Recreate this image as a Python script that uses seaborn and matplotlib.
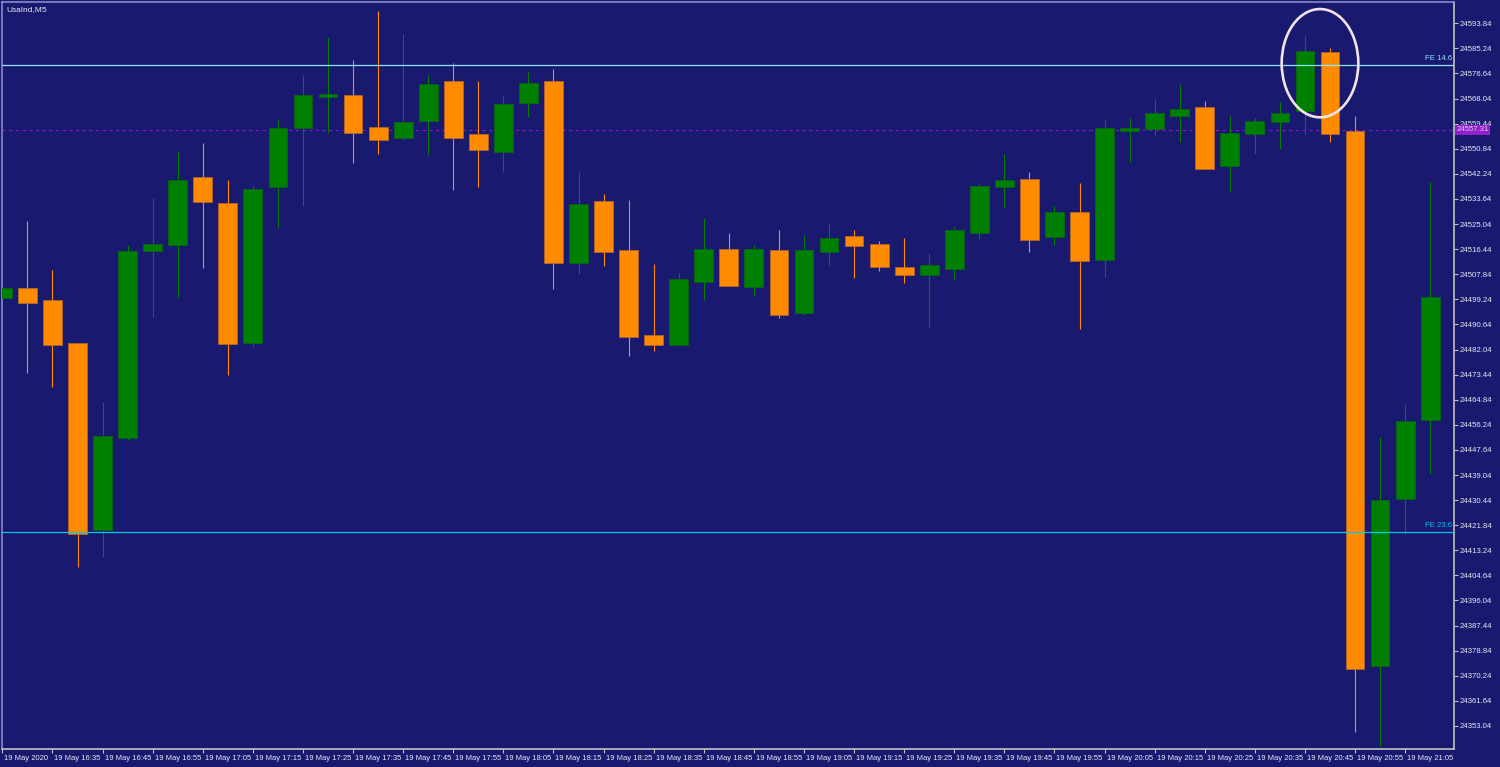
import numpy as np
import pandas as pd
import matplotlib
matplotlib.use("Agg")
import matplotlib.pyplot as plt
import matplotlib.transforms as mtransforms
from matplotlib.patches import Ellipse
import seaborn as sns

# ── Colours (MetaTrader-like scheme) ─────────────────────────────────────────
BG       = "#191970"
BULL     = "#008000"
BEAR     = "#FF8C00"
AXIS_COL = "#C0C0C0"
FRAME    = "#8888C8"
TEXT_COL = "#E8E8F0"

# ── Data: UsaInd M5, 19 May 2020 16:25 – 21:10 ──────────────────────────────
times = pd.date_range("2020-05-19 16:25", periods=58, freq="5min")

opens = [
    24499.67, 24502.96, 24499.02, 24484.35, 24420.06, 24451.62, 24515.68, 24517.77, 24541.21, 24532.30,
    24484.25, 24537.68, 24557.96, 24568.69, 24569.10, 24558.20, 24554.64, 24560.47, 24574.07, 24555.91,
    24549.84, 24566.64, 24574.07, 24511.80, 24533.05, 24516.15, 24487.03, 24483.60, 24505.29, 24516.40,
    24503.58, 24516.15, 24494.67, 24515.57, 24520.95, 24518.11, 24510.23, 24507.59, 24509.64, 24521.88,
    24537.64, 24540.38, 24520.51, 24529.07, 24512.73, 24556.90, 24557.59, 24561.94, 24565.13, 24544.84,
    24555.74, 24559.95, 24563.62, 24584.11, 24556.90, 24373.59, 24430.89, 24457.72,
]
highs = [
    24503.50, 24526.13, 24509.23, 24484.35, 24464.06, 24518.01, 24534.11, 24550.12, 24552.86, 24540.14,
    24538.33, 24560.98, 24576.02, 24589.12, 24581.27, 24598.06, 24590.08, 24576.13, 24580.34, 24574.07,
    24568.93, 24577.16, 24578.18, 24542.89, 24535.35, 24533.29, 24511.36, 24508.17, 24527.02, 24521.98,
    24517.87, 24523.01, 24521.30, 24525.30, 24523.01, 24519.24, 24520.16, 24515.02, 24524.14, 24539.01,
    24549.05, 24542.99, 24531.23, 24539.22, 24561.05, 24561.29, 24567.97, 24573.01, 24567.32, 24562.11,
    24561.29, 24566.98, 24589.77, 24585.28, 24562.11, 24452.17, 24463.24, 24539.32,
]
lows = [
    24499.40, 24474.14, 24469.31, 24407.38, 24411.02, 24450.97, 24493.13, 24499.95, 24509.92, 24473.25,
    24483.05, 24523.90, 24531.13, 24556.11, 24545.80, 24548.95, 24553.85, 24548.71, 24536.72, 24537.64,
    24542.78, 24561.84, 24502.69, 24507.83, 24510.77, 24479.93, 24481.65, 24483.60, 24499.02, 24503.82,
    24500.73, 24492.75, 24493.88, 24511.01, 24506.66, 24508.96, 24504.95, 24489.87, 24505.87, 24519.92,
    24530.65, 24515.57, 24517.87, 24488.98, 24506.80, 24546.21, 24555.26, 24553.06, 24543.85, 24536.13,
    24549.05, 24550.73, 24555.74, 24553.27, 24350.97, 24346.27, 24418.83, 24439.29,
]
closes = [
    24503.23, 24498.13, 24483.56, 24418.90, 24452.55, 24515.78, 24518.28, 24540.28, 24532.67, 24483.84,
    24537.13, 24557.96, 24569.34, 24569.48, 24556.39, 24553.85, 24560.12, 24573.04, 24554.64, 24550.53,
    24566.09, 24573.28, 24511.60, 24531.92, 24515.57, 24486.44, 24483.60, 24506.22, 24516.50, 24503.82,
    24516.40, 24493.88, 24516.15, 24520.16, 24517.53, 24510.43, 24507.59, 24511.01, 24523.01, 24538.09,
    24540.14, 24519.58, 24529.28, 24512.39, 24558.07, 24557.93, 24563.10, 24564.30, 24543.85, 24556.25,
    24560.26, 24563.10, 24584.25, 24556.01, 24372.60, 24430.55, 24457.38, 24500.12,
]

y_ticks = [
    24353.04, 24361.64, 24370.24, 24378.84, 24387.44, 24396.04, 24404.64, 24413.24, 24421.84, 24430.44,
    24439.04, 24447.64, 24456.24, 24464.84, 24473.44, 24482.04, 24490.64, 24499.24, 24507.84, 24516.44,
    24525.04, 24533.64, 24542.24, 24550.84, 24559.44, 24568.04, 24576.64, 24585.24, 24593.84,
]
x_tick_labels = [
    "19 May 2020", "19 May 16:35", "19 May 16:45", "19 May 16:55", "19 May 17:05", "19 May 17:15",
    "19 May 17:25", "19 May 17:35", "19 May 17:45", "19 May 17:55", "19 May 18:05", "19 May 18:15",
    "19 May 18:25", "19 May 18:35", "19 May 18:45", "19 May 18:55", "19 May 19:05", "19 May 19:15",
    "19 May 19:25", "19 May 19:35", "19 May 19:45", "19 May 19:55", "19 May 20:05", "19 May 20:15",
    "19 May 20:25", "19 May 20:35", "19 May 20:45", "19 May 20:55", "19 May 21:05",
]

fe_levels = {"FE 14.6": 24579.55, "FE 23.6": 24419.51}
fe_colors = {"FE 14.6": "#8CE4FF", "FE 23.6": "#00C8E6"}
bid_price = 24557.31

# ── Frame ────────────────────────────────────────────────────────────────────
df = pd.DataFrame({"time": times, "open": opens, "high": highs, "low": lows, "close": closes})
df["idx"] = np.arange(len(df))
df["dir"] = np.where(df["close"] >= df["open"], "up", "down")

sns.set_style("dark", rc={"axes.facecolor": BG, "figure.facecolor": BG})
plt.rcParams["font.family"] = ["Liberation Sans", "DejaVu Sans"]

W, H, DPI = 1500, 767, 100
fig = plt.figure(figsize=(W / DPI, H / DPI), dpi=DPI)
left, right, top, bottom = 2, 1454, 2, 749.3
ax = fig.add_axes([left / W, 1 - bottom / H, (right - left) / W, (bottom - top) / H])
ax.set_facecolor(BG)

body_col = np.where(df["dir"] == "up", BULL, BEAR)
edge_col = np.where(df["dir"] == "up", "#0A6A0A", "#B8682A")

# Wicks
ax.vlines(df["idx"], df["low"], df["high"], colors=body_col, linewidth=0.8, zorder=2)

# Bodies
body_bottom = np.minimum(df["open"], df["close"])
body_height = np.maximum(np.abs(df["close"] - df["open"]), 0.35)
sns.despine(ax=ax, left=False, bottom=False, right=False, top=False)
ax.bar(df["idx"], body_height, bottom=body_bottom, width=0.75, color=body_col,
       edgecolor=edge_col, linewidth=0.5, zorder=3)

# Horizontal levels
for name, lvl in fe_levels.items():
    ax.axhline(lvl, color=fe_colors[name], linewidth=0.9, zorder=4)
    ax.text(0.9985, lvl + 1.0, name, transform=ax.get_yaxis_transform(), ha="right", va="bottom",
            fontsize=5.6, color=fe_colors[name], zorder=5)
ax.axhline(bid_price, color="#8418C8", linewidth=0.8, linestyle=(0, (3, 3)), zorder=1)
ax.text(1.0018, bid_price, f"{bid_price:.2f}", transform=ax.get_yaxis_transform(), ha="left",
        va="center", fontsize=5.6, color="#D8C8F0", clip_on=False, zorder=6,
        bbox=dict(boxstyle="square,pad=0.15", facecolor="#9420CC", edgecolor="none"))

# Highlight ellipse
ax.add_patch(Ellipse((52.6, 24580.17), width=3.06, height=37.1, fill=False,
                     edgecolor="#F2E4E6", linewidth=1.9, zorder=6))

# ── Axes styling ─────────────────────────────────────────────────────────────
ax.set_xlim(-0.016, 57.95)
ax.set_ylim(24345.04, 24601.14)

ax.set_xticks(np.arange(0, 57, 2))
ax.set_xticklabels(x_tick_labels)
ax.set_yticks(y_ticks)
ax.set_yticklabels([f"{v:.2f}" for v in y_ticks])
ax.yaxis.tick_right()
ax.tick_params(axis="both", which="both", direction="out", length=3, width=0.8,
               color=AXIS_COL, labelcolor=TEXT_COL, pad=1)
ax.tick_params(axis="x", bottom=True, labelsize=5.5)
ax.tick_params(axis="y", right=True, left=False, labelsize=5.6)
shift = mtransforms.ScaledTranslation(2 / DPI, 0, fig.dpi_scale_trans)
for lab in ax.get_xticklabels():
    lab.set_horizontalalignment("left")
    lab.set_transform(lab.get_transform() + shift)

ax.set_xlabel("")
ax.set_ylabel("")
ax.grid(False)
for side in ["top", "left"]:
    ax.spines[side].set_color(FRAME)
    ax.spines[side].set_linewidth(1.2)
for side in ["right", "bottom"]:
    ax.spines[side].set_color(AXIS_COL)
    ax.spines[side].set_linewidth(1.2)

ax.text(0.003, 0.995, "UsaInd,M5", transform=ax.transAxes, ha="left", va="top",
        fontsize=6, color=TEXT_COL)

fig.savefig("out.png", dpi=DPI, facecolor=BG)
plt.close(fig)
